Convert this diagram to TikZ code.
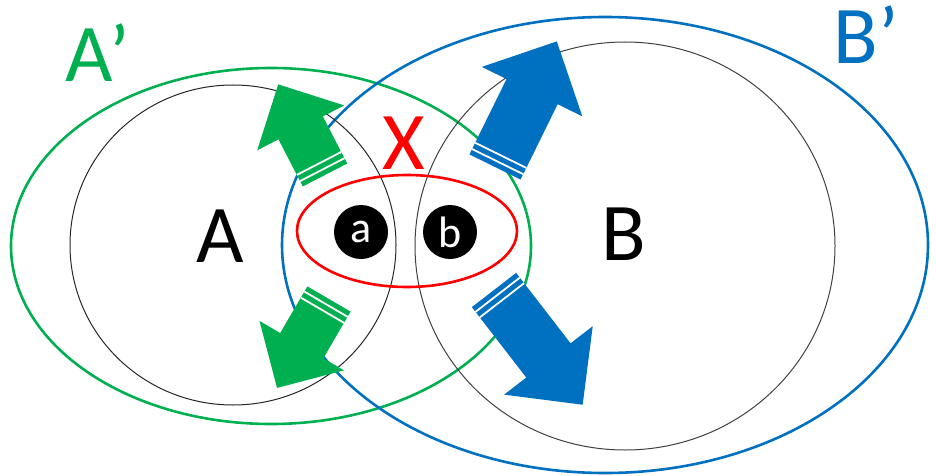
\documentclass[tikz,border=0pt]{standalone}
\usepackage{fontspec}
\setmainfont{Carlito}
\definecolor{pgreen}{HTML}{00B050}
\definecolor{pblue}{HTML}{0070C0}
\definecolor{pred}{HTML}{FF0000}
\tikzset{
  bigring/.style={line width=2.6pt},
  thinring/.style={line width=1pt, draw=black!85},
  biglabel/.style={inner sep=0pt, font=\fontsize{82}{82}\selectfont},
  dot/.style={circle, fill=black, minimum size=54pt, inner sep=0pt, text=white, font=\fontsize{44}{44}\selectfont},
  stripe/.style={white, line width=1.8pt}
}
\newcommand{\fatarrow}[8]{%
  \begin{scope}[shift={(#2,#3)},rotate=#4]
    \fill[#1] (0,-#6/2) -- (#5-#8,-#6/2) -- (#5-#8,-#7/2) -- (#5,0) -- (#5-#8,#7/2) -- (#5-#8,#6/2) -- (0,#6/2) -- cycle;
    \draw[stripe] (6,-#6/2) -- (6,#6/2);
    \draw[stripe] (13,-#6/2) -- (13,#6/2);
  \end{scope}}
\begin{document}
\begin{tikzpicture}[x=1pt,y=-1pt]
\useasboundingbox (0,0) rectangle (936,476);
% rings
\draw[bigring, pgreen] (271,246) ellipse (260 and 178);
\draw[bigring, pblue] (605,245) ellipse (323 and 228);
\draw[thinring] (233,245) ellipse (163 and 160);
\draw[thinring, draw=black!75] (625,246) ellipse (210 and 204);
\draw[bigring, pred] (407,231) ellipse (110 and 56);
% arrows
\fatarrow{pgreen}{325}{175}{117.3}{102}{50}{98}{49}
\fatarrow{pgreen}{329}{299}{-120.3}{103}{50}{98}{49}
\fatarrow{pblue}{495}{167}{63.8}{140}{57}{112}{56}
\fatarrow{pblue}{494}{290}{-52.3}{145}{56}{112}{56}
% labels
\node[biglabel] (A) at (220,236) {A};
\node[biglabel] (B) at (624,234) {B};
\node[biglabel, text=pred] (X) at (404,143) {X};
\node[biglabel, text=pgreen] (Ap) at (98,53) {A’};
\node[biglabel, text=pblue] (Bp) at (866,35) {B’};
\node[dot] (a) at (361,232) {a};
\node[dot] (b) at (450,232) {b};
\end{tikzpicture}
\end{document}
